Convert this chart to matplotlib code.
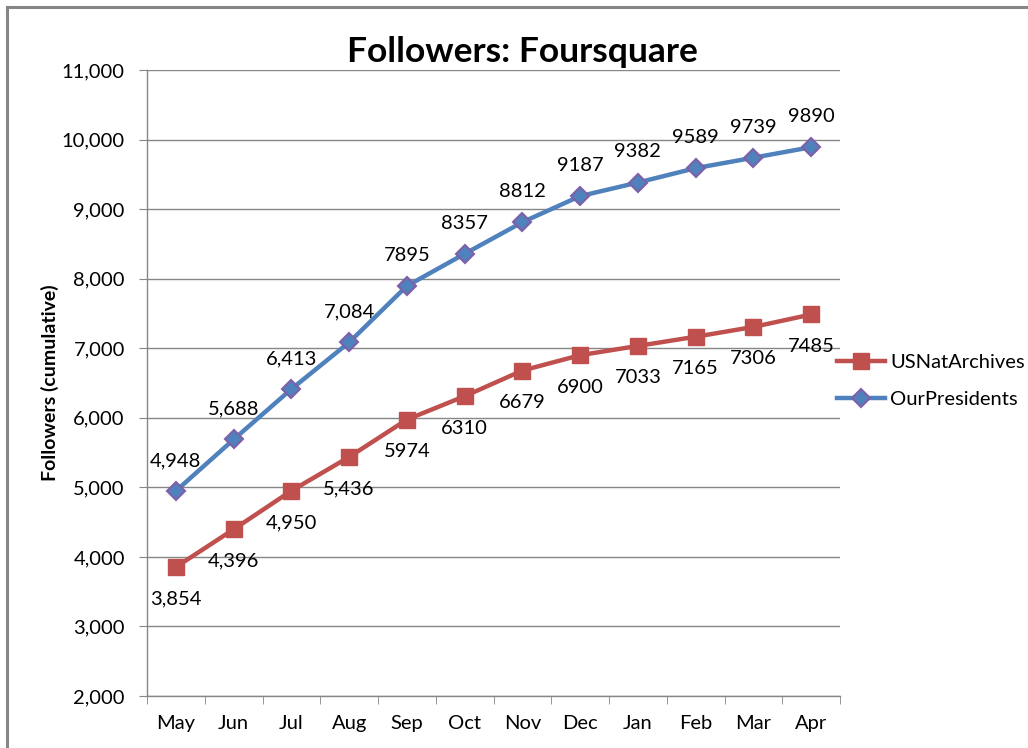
import matplotlib
matplotlib.use("Agg")
import matplotlib.pyplot as plt
from matplotlib.lines import Line2D
from matplotlib.ticker import FuncFormatter, FixedLocator

plt.rcParams['font.family'] = ['Lato', 'DejaVu Sans']

months = ["May", "Jun", "Jul", "Aug", "Sep", "Oct", "Nov", "Dec", "Jan", "Feb", "Mar", "Apr"]
us_nat_archives = [3854, 4396, 4950, 5436, 5974, 6310, 6679, 6900, 7033, 7165, 7306, 7485]
our_presidents = [4948, 5688, 6413, 7084, 7895, 8357, 8812, 9187, 9382, 9589, 9739, 9890]
us_labels = ["3,854", "4,396", "4,950", "5,436", "5974", "6310", "6679", "6900", "7033", "7165", "7306", "7485"]
op_labels = ["4,948", "5,688", "6,413", "7,084", "7895", "8357", "8812", "9187", "9382", "9589", "9739", "9890"]

red = "#C0504D"
blue = "#4F81BD"
purple = "#7F5FA8"
gray = "#868686"

fig = plt.figure(figsize=(10.28, 7.48), dpi=100)
ax = fig.add_axes([147/1028, 1-696/748, (840-147)/1028, (696-70)/748])

x = list(range(len(months)))
l1, = ax.plot(x, us_nat_archives, color=red, lw=3.2, marker="s", ms=11,
              mfc=red, mec=red, label="USNatArchives", zorder=3)
l2, = ax.plot(x, our_presidents, color=blue, lw=3.2, marker="D", ms=9.5,
              mfc=blue, mec=purple, mew=1.5, label="OurPresidents", zorder=4)

for xi, v, t in zip(x, us_nat_archives, us_labels):
    ax.annotate(t, (xi, v), xytext=(0, -23), textcoords="offset points",
                ha="center", va="center", fontsize=14.5, color="black")
for xi, v, t in zip(x, our_presidents, op_labels):
    ax.annotate(t, (xi, v), xytext=(0, 22), textcoords="offset points",
                ha="center", va="center", fontsize=14.5, color="black")

ax.set_xlim(-0.5, 11.5)
ax.set_ylim(2000, 11000)
ax.set_yticks(range(2000, 11001, 1000))
ax.yaxis.set_major_formatter(FuncFormatter(lambda v, p: f"{int(v):,}"))
ax.set_xticks(x)
ax.set_xticklabels(months)
ax.xaxis.set_minor_locator(FixedLocator([i - 0.5 for i in range(13)]))
ax.tick_params(axis="x", which="major", length=0, pad=14, labelsize=14.5)
ax.tick_params(axis="x", which="minor", length=6, color=gray, direction="out")
ax.tick_params(axis="y", which="major", length=6, color=gray, direction="out", pad=10, labelsize=14.5)

ax.grid(axis="y", color=gray, lw=1)
ax.set_axisbelow(True)
for s in ["top", "right"]:
    ax.spines[s].set_visible(False)
for s in ["left", "bottom"]:
    ax.spines[s].set_color(gray)
    ax.spines[s].set_linewidth(1)

ax.set_ylabel("Followers (cumulative)", fontsize=14, fontweight="bold")
ax.yaxis.set_label_coords((59 - 147) / 693, 0.5)
fig.text(522/1028, 1-52/748, "Followers: Foursquare", ha="center", va="center",
         fontsize=25.5, fontweight="bold")

fig.legend(handles=[l1, l2], loc="center left", bbox_to_anchor=(829/1028, 1-381/748),
           frameon=False, fontsize=14.5, handlelength=2.4, handletextpad=0.25,
           labelspacing=1.0, borderaxespad=0)

fig.add_artist(Line2D([7/1028, 7/1028], [0, 1-7/748], color=gray, lw=2.2, transform=fig.transFigure))
fig.add_artist(Line2D([7/1028, 1], [1-7/748, 1-7/748], color=gray, lw=2.2, transform=fig.transFigure))

fig.savefig("out.png", dpi=100)
